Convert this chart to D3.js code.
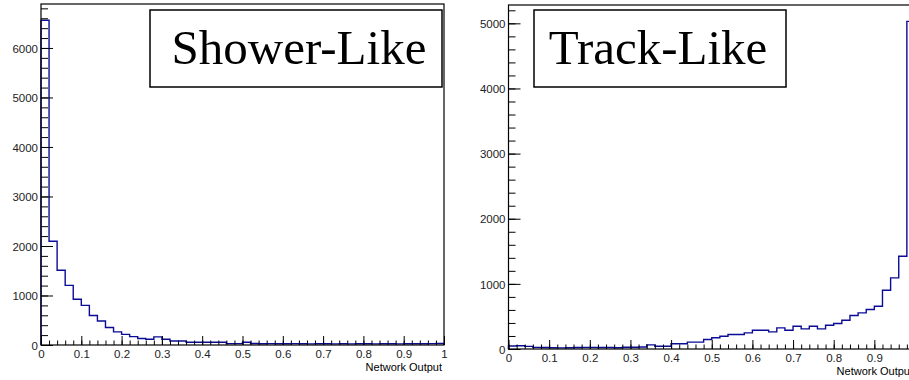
<!DOCTYPE html>
<html>
<head>
<meta charset="utf-8">
<script src="https://cdn.jsdelivr.net/npm/d3@7"></script>
<style>
body { margin: 0; background: #fff; }
svg { display: block; }
</style>
</head>
<body>
<svg width="909" height="380"></svg>
<script>
var svg = d3.select('svg');

// bin lower edges: 50 bins of 0.02 on [0, 1]
var binEdges = d3.range(0, 50).map(function(i) { return i * 0.02 })
var xTickLabels = [0, 0.1, 0.2, 0.3, 0.4, 0.5, 0.6, 0.7, 0.8, 0.9, 1]

// counts per bin
var showerCounts = [
	6560, 2095, 1510, 1205, 925, 800, 595, 485, 355, 265,
	215, 170, 130, 115, 165, 115, 80, 80, 55, 55,
	55, 55, 55, 27, 27, 55, 30, 25, 28, 26,
	24, 27, 25, 22, 26, 24, 23, 25, 22, 24,
	26, 23, 25, 24, 22, 26, 25, 24, 27, 30
]
var trackCounts = [
	45, 50, 40, 25, 22, 20, 18, 20, 22, 25,
	25, 22, 24, 20, 26, 28, 30, 64, 43, 43,
	80, 80, 105, 105, 146, 172, 196, 222, 222, 248,
	288, 288, 263, 325, 288, 350, 309, 350, 309, 365,
	391, 442, 514, 555, 606, 656, 902, 1092, 1423, 5030
]

var panels = [
	{title: "Shower-Like", counts: showerCounts, left: 41, right: 444, top: 4, bottom: 345,
	 box: [150, 10, 442, 87], titleX: 299},
	{title: "Track-Like", counts: trackCounts, left: 508.5, right: 915, top: 5, bottom: 349,
	 box: [534, 10, 786, 87], titleX: 658}
]

var lineColor = "#0b0b96"
var sans = "'Liberation Sans', Arial, Helvetica, sans-serif"

panels.forEach(drawPanel)

function drawPanel(p) {
	var g = svg.append('g')

	var x = d3.scaleLinear().domain([0, 1]).range([p.left, p.right])
	// ROOT leaves 5% headroom above the tallest bin
	var y = d3.scaleLinear().domain([0, d3.max(p.counts) * 1.05]).range([p.bottom, p.top])

	//Histogram outline
	var pts = [[0, 0]]
	p.counts.forEach(function(c, i) {
		pts.push([binEdges[i], c])
		pts.push([binEdges[i] + 0.02, c])
	})
	pts.push([1, 0])
	var line = d3.line()
		.x(function(d) { return x(d[0]) })
		.y(function(d) { return y(d[1]) })
	g.append('path')
		.attr('d', line(pts))
		.attr('fill', 'none')
		.attr('stroke', lineColor)
		.attr('stroke-width', 1.4)

	//Minor y ticks (every 200)
	var yMinor = d3.range(0, y.domain()[1], 200)
	g.append('g')
		.attr('transform', 'translate(' + p.left + ',0)')
		.call(d3.axisLeft(y).tickValues(yMinor).tickSize(-7).tickSizeOuter(0).tickFormat(''))
		.call(cleanAxis)
	//Major y ticks with labels
	var yMajor = d3.range(0, y.domain()[1], 1000)
	var ya = g.append('g')
		.attr('transform', 'translate(' + p.left + ',0)')
		.call(d3.axisLeft(y).tickValues(yMajor).tickSize(-12).tickSizeOuter(0).tickFormat(d3.format('d')))
		.call(cleanAxis)
	ya.selectAll('text').attr('x', -3).attr('dy', '0.36em')

	//Minor x ticks
	var xMinor = d3.range(0, 51).map(function(i) { return i * 0.02 })
	g.append('g')
		.attr('transform', 'translate(0,' + p.bottom + ')')
		.call(d3.axisBottom(x).tickValues(xMinor).tickSize(-4.5).tickSizeOuter(0).tickFormat(''))
		.call(cleanAxis)
	//Major x ticks with labels (only those that fall inside the picture)
	var xa = g.append('g')
		.attr('transform', 'translate(0,' + p.bottom + ')')
		.call(d3.axisBottom(x).tickValues(xTickLabels).tickSize(-9).tickSizeOuter(0).tickFormat(d3.format('~g')))
		.call(cleanAxis)
	xa.selectAll('text').attr('y', 13).attr('dy', 0)
	xa.selectAll('.tick').filter(function(d) { return x(d) > 905 }).select('text').remove()

	//Frame
	g.append('rect')
		.attr('x', p.left).attr('y', p.top)
		.attr('width', p.right - p.left).attr('height', p.bottom - p.top)
		.attr('fill', 'none').attr('stroke', 'black').attr('stroke-width', 1.2)

	//Axis title
	g.append('text')
		.text('Network Output')
		.attr('x', p.right - 2)
		.attr('y', p.bottom + 26)
		.attr('text-anchor', 'end')
		.attr('font-family', sans)
		.attr('font-size', 11)
		.attr('fill', 'black')

	//Title box
	var b = p.box
	g.append('rect')
		.attr('x', b[0]).attr('y', b[1])
		.attr('width', b[2] - b[0]).attr('height', b[3] - b[1])
		.attr('fill', 'white').attr('stroke', 'black').attr('stroke-width', 1.5)
	g.append('text')
		.text(p.title)
		.attr('x', p.titleX)
		.attr('y', 64)
		.attr('text-anchor', 'middle')
		.attr('font-family', "'Liberation Serif', 'Times New Roman', serif")
		.attr('font-size', 49)
		.attr('fill', 'black')
}

function cleanAxis(sel) {
	sel.select('.domain').remove()
	sel.selectAll('line').attr('stroke', 'black').attr('stroke-width', 1)
	sel.selectAll('text')
		.attr('font-family', sans)
		.attr('font-size', 11.5)
		.attr('fill', '#222')
}
</script>
</body>
</html>
